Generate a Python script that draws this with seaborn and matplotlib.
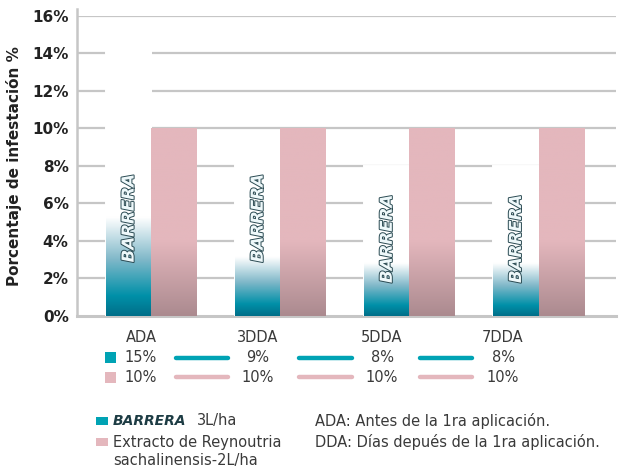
import numpy as np
import pandas as pd
import matplotlib.pyplot as plt
import matplotlib.patheffects as pe
from matplotlib.colors import LinearSegmentedColormap
import seaborn as sns

dias = ["ADA", "3DDA", "5DDA", "7DDA"]
barrera = [15, 9, 8, 8]
extracto = [10, 10, 10, 10]
tabla_barrera = ["15%", "9%", "8%", "8%"]
tabla_extracto = ["10%", "10%", "10%", "10%"]
logo_y = [5.2, 5.2, 4.1, 4.1]

df = pd.DataFrame({
    "dia": dias * 2,
    "valor": barrera + extracto,
    "trat": ["Barrera"] * 4 + ["Extracto"] * 4,
})

teal = "#00a3b4"
pink = "#e4b7bd"
gris = "#c6c6c6"
texto = "#3a3a3a"

sns.set_style("white")
plt.rcParams["font.family"] = ["DejaVu Sans"]

fig = plt.figure(figsize=(6.3, 4.71), dpi=100)
ax = fig.add_axes([77 / 630, 1 - 316 / 471, (616 - 77) / 630, (316 - 15.7) / 471])

sns.barplot(data=df, x="dia", y="valor", hue="trat", palette=[teal, pink],
            width=0.7, gap=0, legend=False, ax=ax, zorder=3, linewidth=0)

ax.set_ylim(0, 16)
ax.set_xlim(-0.575, 3.6)
ax.set_yticks(np.arange(0, 17, 2))
ax.set_yticklabels([f"{v}%" for v in range(0, 17, 2)], fontsize=11,
                   fontweight="bold", color="#222222")
ax.set_xticks([])
ax.set_xlabel("")
ax.set_ylabel("Porcentaje de infestación %", fontsize=11, fontweight="bold",
              color="#222222", labelpad=7)
ax.tick_params(axis="y", length=0, pad=6)
for v in range(2, 17, 2):
    ax.axhline(v, color=gris, lw=1.6, zorder=1)
for s in ["top", "right"]:
    ax.spines[s].set_visible(False)
ax.spines["left"].set_color(gris)
ax.spines["left"].set_linewidth(1.8)
ax.spines["left"].set_bounds(0, 16.35)
ax.spines["bottom"].set_color(gris)
ax.spines["bottom"].set_linewidth(2.2)
ax.spines["left"].set_clip_on(False)

# degradados dentro de cada barra
cmap_teal = LinearSegmentedColormap.from_list(
    "t", [(0, "#006f89"), (0.07, "#0090a8"), (0.2, "#80b8c9"), (0.35, "#ffffff"), (1, "#ffffff")])
cmap_pink = LinearSegmentedColormap.from_list(
    "p", [(0, "#ab8a8f"), (0.4, "#e4b7bd"), (1, "#e4b7bd")])
grad = np.linspace(0, 1, 256).reshape(-1, 1)
patches = list(ax.patches)
for i, p in enumerate(patches):
    x0, w, h = p.get_x(), p.get_width(), p.get_height()
    cm = cmap_teal if i < 4 else cmap_pink
    im = ax.imshow(grad, cmap=cm, origin="lower", aspect="auto",
                   extent=[x0, x0 + w, 0, h], zorder=4)
    im.set_clip_path(p)
    if i < 4:
        p.set_edgecolor("white")
        p.set_linewidth(1.4)
        ax.text(x0 + w / 2, logo_y[i], "BARRERA", rotation=90, ha="center",
                va="center", fontsize=12, fontweight="heavy", style="italic",
                color="#eef8fa", zorder=6,
                path_effects=[pe.withStroke(linewidth=1.4, foreground="#2a4a52")])
ax.set_xlim(-0.575, 3.6)
ax.set_ylim(0, 16)

# tabla de datos bajo el eje
col_x = [141, 258, 382, 503]
seg = [(176, 228), (299, 352), (420, 472)]
for cx, d, b, e in zip(col_x, dias, tabla_barrera, tabla_extracto):
    fig.text(cx / 630, 1 - 337 / 471, d, ha="center", va="center", fontsize=10.5, color=texto)
    fig.text(cx / 630, 1 - 358 / 471, b, ha="center", va="center", fontsize=10.5, color=texto)
    fig.text(cx / 630, 1 - 378 / 471, e, ha="center", va="center", fontsize=10.5, color=texto)
for a, b in seg:
    fig.add_artist(plt.Line2D([a / 630, b / 630], [1 - 358 / 471] * 2, color=teal, lw=3.2))
    fig.add_artist(plt.Line2D([a / 630, b / 630], [1 - 377 / 471] * 2, color=pink, lw=3.2))
fig.add_artist(plt.Rectangle((105 / 630, 1 - 363 / 471), 11 / 630, 11 / 471, color=teal, lw=0))
fig.add_artist(plt.Rectangle((105 / 630, 1 - 383 / 471), 11 / 630, 11 / 471, color=pink, lw=0))

# leyenda
fig.add_artist(plt.Rectangle((96 / 630, 1 - 425 / 471), 12 / 630, 8 / 471, color=teal, lw=0))
fig.add_artist(plt.Rectangle((96 / 630, 1 - 446 / 471), 12 / 630, 8 / 471, color=pink, lw=0))
fig.text(113 / 630, 1 - 421 / 471, "BARRERA", ha="left", va="center", fontsize=10,
         fontweight="heavy", style="italic", color="#1d3c44")
fig.text(197 / 630, 1 - 421 / 471, "3L/ha", ha="left", va="center", fontsize=10.5, color=texto)
fig.text(113 / 630, 1 - 442 / 471, "Extracto de Reynoutria", ha="left", va="center",
         fontsize=10.5, color=texto)
fig.text(113 / 630, 1 - 461 / 471, "sachalinensis-2L/ha", ha="left", va="center",
         fontsize=10.5, color=texto)
fig.text(315 / 630, 1 - 421 / 471, "ADA: Antes de la 1ra aplicación.", ha="left",
         va="center", fontsize=10.5, color=texto)
fig.text(315 / 630, 1 - 442 / 471, "DDA: Días depués de la 1ra aplicación.", ha="left",
         va="center", fontsize=10.5, color=texto)

fig.savefig("out.png", dpi=100)
